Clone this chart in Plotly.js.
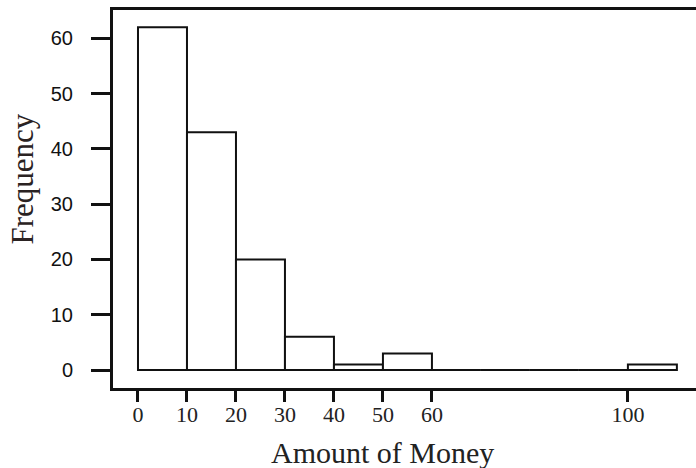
<!DOCTYPE html>
<html>
<head>
<meta charset="utf-8">
<script src="https://cdn.plot.ly/plotly-3.0.1.min.js"></script>
<style>html,body{margin:0;padding:0;background:#fff;}#chart{width:696px;height:468px;}</style>
</head>
<body>
<div id="chart"></div>
<script>
// Histogram bins (lower edge) and frequency counts
const binStarts = [0, 10, 20, 30, 40, 50, 60, 70, 80, 90, 100];
const frequencies = [62, 43, 20, 6, 1, 3, 0, 0, 0, 0, 1];
const binWidth = 10;
const xTickVals = [0, 10, 20, 30, 40, 50, 60, 100];
const yTickVals = [0, 10, 20, 30, 40, 50, 60];
const xTitle = 'Amount of Money';
const yTitle = 'Frequency';

const centers = binStarts.map(b => b + binWidth / 2);

const trace = {
  type: 'bar',
  x: centers,
  y: frequencies,
  width: binStarts.map(() => binWidth),
  marker: { color: '#ffffff', line: { color: '#111', width: 2 } },
  hoverinfo: 'skip'
};

const layout = {
  width: 696, height: 468,
  margin: { l: 113, r: 0, t: 10, b: 80 },
  paper_bgcolor: '#fff', plot_bgcolor: '#fff',
  showlegend: false,
  bargap: 0,
  xaxis: {
    range: [-5.1, 113.9],
    tickvals: xTickVals,
    ticktext: xTickVals.map(String),
    ticks: 'outside', ticklen: 11, tickwidth: 3, tickcolor: '#111',
    showline: true, linewidth: 3, linecolor: '#111', mirror: true,
    showgrid: false, zeroline: false,
    ticklabelstandoff: -6,
    tickfont: { family: 'Liberation Serif, serif', size: 22, color: '#222' }
  },
  yaxis: {
    range: [-3.25, 65.1],
    tickvals: yTickVals,
    ticks: 'outside', ticklen: 19, tickwidth: 3, tickcolor: '#111',
    showline: true, linewidth: 3, linecolor: '#111',
    showgrid: false, zeroline: false,
    ticklabelstandoff: 14,
    tickfont: { family: 'Liberation Sans, Arial, sans-serif', size: 20, color: '#111' }
  },
  annotations: [
    {
      text: xTitle, xref: 'paper', yref: 'paper', x: 0.463, y: -0.17,
      xanchor: 'center', yanchor: 'middle', showarrow: false,
      font: { family: 'Liberation Serif, serif', size: 30, color: '#222' }
    },
    {
      text: yTitle, xref: 'paper', yref: 'paper', x: -0.155, y: 0.553,
      xanchor: 'center', yanchor: 'middle', showarrow: false, textangle: -90,
      font: { family: 'Liberation Serif, serif', size: 31, color: '#2a2222' }
    }
  ]
};

Plotly.newPlot('chart', [trace], layout, { staticPlot: true, displayModeBar: false });
</script>
</body>
</html>
